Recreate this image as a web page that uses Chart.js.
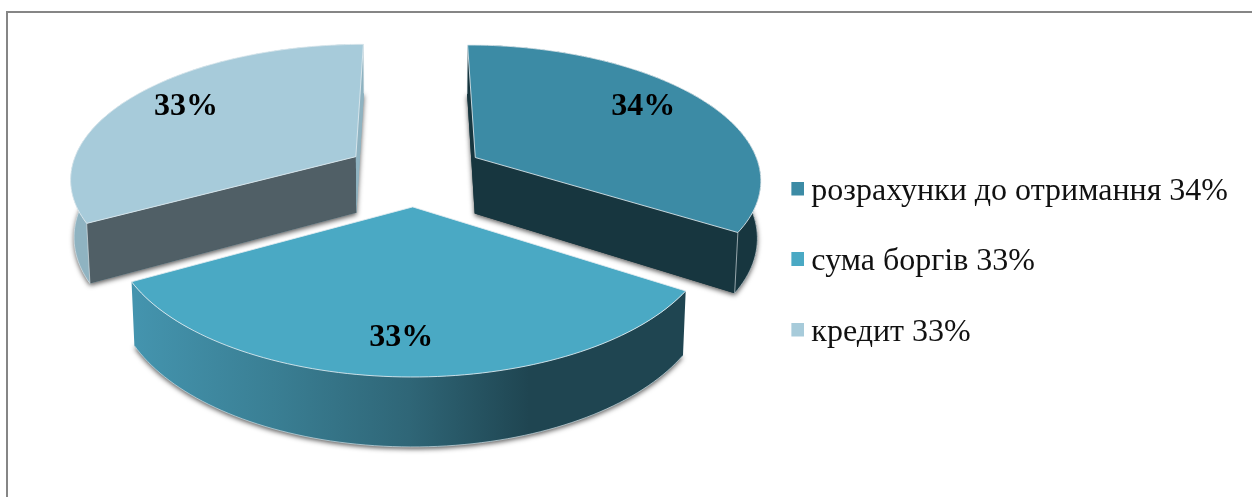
<!DOCTYPE html>
<html>
<head>
<meta charset="utf-8">
<script src="https://cdn.jsdelivr.net/npm/chart.js@4"></script>
<style>
  html, body { margin: 0; background: #fff; overflow: hidden; }
  #frame { position: absolute; left: 6px; top: 11px; width: 1300px; height: 600px;
           border-top: 2px solid #868686; border-left: 2px solid #868686; }
  #pie { position: absolute; left: 0; top: 0; }
</style>
</head>
<body>
<div id="frame"></div>
<canvas id="pie" width="1252" height="497"></canvas>
<script>
const categories = ["розрахунки до отримання", "сума боргів", "кредит"];
const shares = [34, 33, 33];

const topColors = ["#3c8ba5", "#4aa9c4", "#a7cbda"];
const wallColors = [
  [[0, "#17363f"], [1, "#17363f"]],
  [[0, "#4494ae"], [0.25, "#3a7f94"], [0.5, "#2f6677"], [0.72, "#1f4551"], [1, "#1f4551"]],
  [[0, "#8fb3c1"], [1, "#8fb3c1"]],
];
// start cut, end cut
const cutColors = [
  ["#17363f", "#17363f"],
  ["#1f4551", "#3f8ea8"],
  ["#505f66", "#8fb3c1"],
];
const labelNudge = [[-11, -5], [-3, 3], [5, -2]];

// tilted view of the pie: plane units are pixels at the depth of the centre
const view = { cx: 415, cy: 173, radius: 286, explode: 70, tilt: 0.467, persp: 0.00052, depth: 57, floorX: 0.99 };

function project(X, Y, h) {
  const s = 1 / (1 + Y * view.persp);
  return { x: view.cx + X * s * (h ? view.floorX : 1), y: view.cy - view.tilt * Y * s + h * s };
}

function tracePath(ctx, pts) {
  ctx.beginPath();
  pts.forEach((p, i) => (i ? ctx.lineTo(p.x, p.y) : ctx.moveTo(p.x, p.y)));
  ctx.closePath();
}

function signedArea(pts) {
  return pts.reduce((sum, p, i) => {
    const q = pts[(i + 1) % pts.length];
    return sum + p.x * q.y - q.x * p.y;
  }, 0);
}

function slicePoints(arc, h) {
  const mid = (arc.startAngle + arc.endAngle) / 2;
  const ox = view.explode * Math.cos(mid);
  const oy = -view.explode * Math.sin(mid);
  const rim = [];
  for (let i = 0; i <= 80; i++) {
    const a = arc.startAngle + (arc.endAngle - arc.startAngle) * i / 80;
    rim.push(project(ox + view.radius * Math.cos(a), oy - view.radius * Math.sin(a), h));
  }
  return { apex: project(ox, oy, h), rim };
}

const pie3d = {
  id: "pie3d",
  beforeDatasetsDraw(chart) {
    const ctx = chart.ctx;
    const arcs = chart.getDatasetMeta(0).data;
    ctx.save();
    [0, 2, 1].forEach((i) => {
      const top = slicePoints(arcs[i], 0);
      const floor = slicePoints(arcs[i], view.depth);
      const n = top.rim.length - 1;

      // floor carries the soft drop shadow
      ctx.save();
      ctx.shadowColor = "rgba(0,0,0,0.65)";
      ctx.shadowBlur = 5;
      ctx.shadowOffsetY = 2;
      ctx.fillStyle = wallColors[i][0][1];
      tracePath(ctx, [floor.apex, ...floor.rim]);
      ctx.fill();
      ctx.restore();

      // outer wall, shaded left to right
      const xs = floor.rim.map((p) => p.x);
      const grad = ctx.createLinearGradient(Math.min(...xs), 0, Math.max(...xs), 0);
      wallColors[i].forEach(([at, c]) => grad.addColorStop(at, c));
      ctx.fillStyle = grad;
      tracePath(ctx, [...top.rim, ...floor.rim.slice().reverse()]);
      ctx.fill();
      ctx.strokeStyle = "rgba(225,232,235,0.8)";
      ctx.lineWidth = 0.8;
      ctx.beginPath();
      floor.rim.forEach((p, k) => (k ? ctx.lineTo(p.x, p.y) : ctx.moveTo(p.x, p.y)));
      ctx.stroke();

      // cut faces, only the ones turned towards the viewer
      [[top.rim[0], floor.rim[0], 0, -1], [top.rim[n], floor.rim[n], 1, 1]].forEach(([a, b, k, sign]) => {
        const quad = [top.apex, a, b, floor.apex];
        if (signedArea(quad) * sign <= 0) return;
        ctx.fillStyle = cutColors[i][k];
        tracePath(ctx, quad);
        ctx.fill();
        ctx.beginPath();
        ctx.moveTo(a.x, a.y);
        ctx.lineTo(b.x, b.y);
        ctx.stroke();
      });

      // top face with its pale bevel
      ctx.fillStyle = topColors[i];
      tracePath(ctx, [top.apex, ...top.rim]);
      ctx.fill();
      ctx.strokeStyle = "rgba(225,235,240,0.85)";
      ctx.lineWidth = 1;
      ctx.stroke();
    });

    // percentages on the top faces
    ctx.fillStyle = "#000";
    ctx.font = "bold 32px 'Liberation Serif'";
    ctx.textAlign = "center";
    ctx.textBaseline = "middle";
    arcs.forEach((arc, i) => {
      const mid = (arc.startAngle + arc.endAngle) / 2;
      const r = view.explode + view.radius * 0.78;
      const p = project(r * Math.cos(mid), -r * Math.sin(mid), 0);
      ctx.fillText(shares[i] + "%", p.x + labelNudge[i][0], p.y + labelNudge[i][1]);
    });
    ctx.restore();
    return false;
  },
};

// legend marker: square sits up and to the right inside a larger transparent image
function swatch(color) {
  const c = document.createElement("canvas");
  c.width = 18;
  c.height = 20;
  const g = c.getContext("2d");
  g.fillStyle = color;
  g.fillRect(5, 0, 13, 14);
  return c;
}

new Chart("pie", {
  type: "pie",
  data: {
    labels: categories.map((c, i) => c + " " + shares[i] + "%"),
    datasets: [{ data: shares, backgroundColor: topColors, borderWidth: 0 }],
  },
  plugins: [pie3d],
  options: {
    responsive: false,
    animation: false,
    layout: { padding: { top: 27, right: 14 } },
    plugins: {
      tooltip: { enabled: false },
      legend: {
        position: "right",
        labels: {
          usePointStyle: true,
          boxWidth: 0.01,
          boxHeight: 13,
          padding: 38.5,
          color: "#111",
          font: { family: "'Liberation Serif'", size: 32 },
          generateLabels(chart) {
            return Chart.overrides.pie.plugins.legend.labels.generateLabels(chart)
              .map((item, i) => ({ ...item, pointStyle: swatch(topColors[i]) }));
          },
        },
      },
    },
  },
});
</script>
</body>
</html>
